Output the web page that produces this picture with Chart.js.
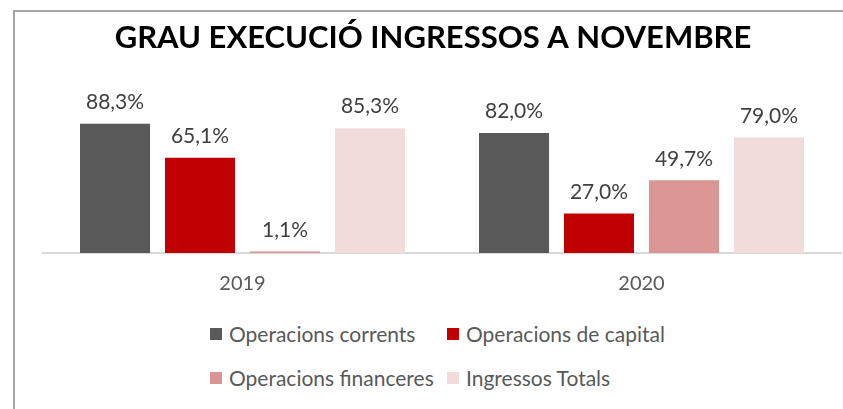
<!DOCTYPE html>
<html lang="ca">
<head>
<meta charset="utf-8">
<title>Grau execució ingressos a novembre</title>
<script src="https://cdn.jsdelivr.net/npm/chart.js@4.4.1/dist/chart.umd.min.js"></script>
<style>
    html, body { margin: 0; padding: 0; background: #fff; }
    body { width: 843px; height: 409px; overflow: hidden; position: relative; font-family: Lato, sans-serif; }
    .frame { position: absolute; left: 13px; top: 10px; width: 900px; height: 500px; border: 2px solid #a6a6a6; box-sizing: border-box; }
    .chart-box { position: absolute; left: 0; top: 0; width: 843px; height: 318px; }
    #legend { position: absolute; left: 210px; top: 322px; display: grid; grid-template-columns: 237px auto; row-gap: 20px; }
    .legend-item { display: flex; align-items: center; font-size: 21px; color: #595959; line-height: 24px; white-space: nowrap; }
    .legend-item span.box { width: 12px; height: 12px; margin-right: 7px; display: inline-block; }
</style>
</head>
<body>
<div class="frame"></div>
<div class="chart-box"><canvas id="ingressosChart"></canvas></div>
<div id="legend"></div>

<script>
// Dades del gràfic
const anys = ['2019', '2020'];
const series = ['Operacions corrents', 'Operacions de capital', 'Operacions financeres', 'Ingressos Totals'];
const operacionsCorrents = [88.3, 82.0];
const operacionsCapital = [65.1, 27.0];
const operacionsFinanceres = [1.1, 49.7];
const ingressosTotals = [85.3, 79.0];
const colors = ['#595959', '#c00000', '#da9694', '#f2dcdb'];

document.addEventListener('DOMContentLoaded', function() {
    const valors = [operacionsCorrents, operacionsCapital, operacionsFinanceres, ingressosTotals];

    // Etiquetes de dades damunt de cada barra
    const etiquetesPlugin = {
        id: 'etiquetes',
        afterDatasetsDraw(chart) {
            const ctx = chart.ctx;
            ctx.save();
            ctx.font = '21px Lato';
            ctx.fillStyle = '#404040';
            ctx.textAlign = 'center';
            ctx.textBaseline = 'bottom';
            chart.data.datasets.forEach((ds, i) => {
                chart.getDatasetMeta(i).data.forEach((bar, j) => {
                    const text = ds.data[j].toFixed(1).replace('.', ',') + '%';
                    ctx.fillText(text, bar.x, bar.y - 11);
                });
            });
            ctx.restore();
        }
    };

    const ctx = document.getElementById('ingressosChart').getContext('2d');
    const chart = new Chart(ctx, {
        type: 'bar',
        data: {
            labels: anys,
            datasets: series.map((nom, i) => ({
                label: nom,
                data: valors[i],
                backgroundColor: colors[i],
                borderWidth: 0,
                categoryPercentage: 0.852,
                barPercentage: 0.824
            }))
        },
        options: {
            responsive: true,
            maintainAspectRatio: false,
            animation: false,
            layout: {
                padding: { left: 25, right: 2, top: 0, bottom: 11 }
            },
            plugins: {
                legend: { display: false },
                tooltip: { enabled: false },
                title: {
                    display: true,
                    text: 'GRAU EXECUCIÓ INGRESSOS A NOVEMBRE',
                    color: '#000',
                    font: { family: 'Lato', size: 31, weight: 'bold' },
                    padding: { top: 19.5, bottom: 50 }
                }
            },
            scales: {
                x: {
                    grid: { display: false },
                    border: { display: true, color: '#d9d9d9', width: 2 },
                    ticks: { color: '#595959', font: { family: 'Lato', size: 20 }, padding: 11 }
                },
                y: {
                    min: 0,
                    max: 100,
                    grid: { display: false },
                    border: { display: false },
                    ticks: { display: false },
                    afterFit(scale) { scale.width = 18; }
                }
            }
        },
        plugins: [etiquetesPlugin]
    });

    // Llegenda en dues columnes, com a l'original
    const legend = document.getElementById('legend');
    chart.data.datasets.forEach(ds => {
        const item = document.createElement('div');
        item.className = 'legend-item';
        item.innerHTML = `<span class="box" style="background:${ds.backgroundColor}"></span>${ds.label}`;
        legend.appendChild(item);
    });
});
</script>
</body>
</html>
